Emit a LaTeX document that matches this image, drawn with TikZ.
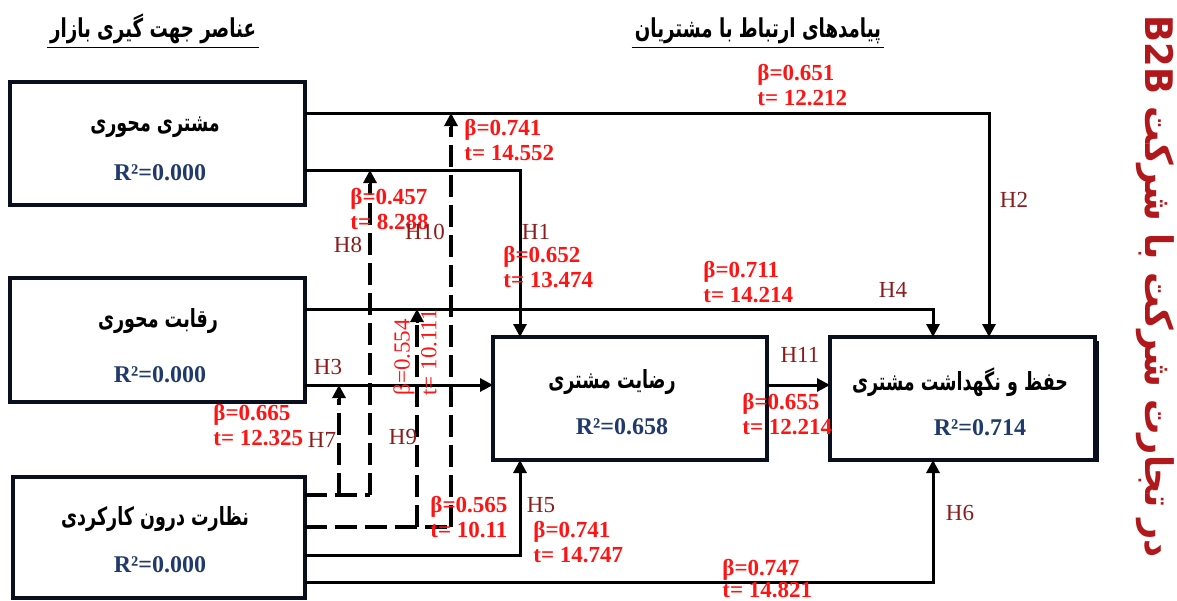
\documentclass[tikz,border=0pt]{standalone}
\usepackage{fontspec}
\setmainfont{Liberation Serif}
\newfontfamily\fa[Script=Arabic,FakeStretch=0.7]{DejaVu Sans}
\newfontfamily\faside[Script=Arabic,FakeStretch=0.93]{DejaVu Sans}
\usetikzlibrary{arrows.meta,calc}
\TeXXeTstate=1
\definecolor{boxline}{HTML}{0A0F1E}
\definecolor{coef}{HTML}{FF1414}
\definecolor{hyp}{HTML}{8B1C1C}
\definecolor{rsq}{HTML}{1F3A6B}
\definecolor{side}{HTML}{B0181C}
\begin{document}
\begin{tikzpicture}[x=0.5pt,y=-0.5pt,
  box/.style={draw=boxline, line width=1.6pt, inner sep=0pt, outer sep=0pt, fill=white},
  ftitle/.style={font=\fa\bfseries\fontsize{12.5}{14}\selectfont, inner sep=0pt},
  rsqtext/.style={font=\bfseries\fontsize{12}{14}\selectfont, text=rsq, inner sep=0pt},
  coeflabel/.style={font=\bfseries\fontsize{11.5}{12.5}\selectfont, text=coef, align=left, anchor=north west, inner sep=0pt},
  hyplabel/.style={font=\fontsize{11.5}{13.5}\selectfont, text=hyp, inner sep=0pt},
  vlabel/.style={font=\fontsize{11.5}{13.5}\selectfont, text=coef, inner sep=0pt, rotate=90, anchor=west},
  conn/.style={line width=1.5pt, draw=black},
  tip/.style={-{Triangle[length=6.5pt,width=6.5pt]}},
  dline/.style={line width=2pt, draw=black, dash pattern=on 11pt off 4pt},
  heading/.style={font=\fa\bfseries\fontsize{13}{15}\selectfont, inner sep=1.5pt}]
\useasboundingbox (0,0) rectangle (1177,600);

% headings
\node[heading] (hl) at (153,29) {\beginR عناصر جهت گیری بازار\endR};
\draw[line width=0.9pt] (hl.south west) -- (hl.south east);
\node[heading] (hr) at (758,31) {\beginR پیامدهای ارتباط با مشتریان\endR};
\draw[line width=0.9pt] (hr.south west) -- (hr.south east);

% side caption
\node[font=\faside\bfseries\fontsize{19}{21}\selectfont, text=side, rotate=-90, inner sep=0pt] (side) at (1155,287)
  {\beginR در تجارت شرکت با شرکت \beginL B2B\endL\endR};

% construct boxes
\node[box, minimum width=147.5pt, minimum height=61.5pt] (A) at (157.5,143.5) {};
\node[box, minimum width=147.5pt, minimum height=62pt] (B) at (157.5,340) {};
\node[box, minimum width=146pt, minimum height=60.5pt] (C) at (159,537.5) {};
\node[box, minimum width=137pt, minimum height=61.5pt] (D) at (630,398.5) {};
\fill[boxline] (1093,341) rectangle (1099,462);
\node[box, minimum width=132.5pt, minimum height=61.5pt] (E) at (962.5,398.5) {};

\node[ftitle] (At) at (155,127) {\beginR مشتری محوری\endR};
\node[rsqtext] (Ar) at (160,173) {R²=0.000};
\node[ftitle] (Bt) at (158,321) {\beginR رقابت محوری\endR};
\node[rsqtext] (Br) at (160,375) {R²=0.000};
\node[ftitle] (Ct) at (155,519) {\beginR نظارت درون کارکردی\endR};
\node[rsqtext] (Cr) at (160,565) {R²=0.000};
\node[ftitle] (Dt) at (612,382) {\beginR رضایت مشتری\endR};
\node[rsqtext] (Dr) at (622,427) {R²=0.658};
\node[ftitle] (Et) at (960,382) {\beginR حفظ و نگهداشت مشتری\endR};
\node[rsqtext] (Er) at (980,428) {R²=0.714};

% junction points on the solid paths
\coordinate (jA1) at (451,113);
\coordinate (jA2) at (370,170);
\coordinate (jB1) at (417,309);
\coordinate (jB2) at (339,385);

% solid paths
\draw[conn,tip] (A.east |- 0,113) -| (989,0 |- E.north);
\draw[conn,tip] (A.east |- 0,170) -| (520,0 |- D.north);
\draw[conn,tip] (B.east |- 0,309) -| (933,0 |- E.north);
\draw[conn,tip] (B.east |- 0,385) -- (D.west |- 0,385);
\draw[conn,tip] (D.east |- 0,385) -- (E.west |- 0,385);
\draw[conn,tip] (C.east |- 0,555) -| (520,0 |- D.south);
\draw[conn,tip] (C.east |- 0,582) -| (933,0 |- E.south);

% dashed paths
\draw[dline] (C.east |- 0,495) -- (370,495);
\draw[dline] (339,495) -- ($(jB2)+(0,14)$);
\draw[conn,tip] ($(jB2)+(0,14)$) -- (jB2);
\draw[dline] (370,495) -- ($(jA2)+(0,14)$);
\draw[conn,tip] ($(jA2)+(0,14)$) -- (jA2);
\draw[dline] (C.east |- 0,527) -- (451,527);
\draw[dline] (417,527) -- ($(jB1)+(0,14)$);
\draw[conn,tip] ($(jB1)+(0,14)$) -- (jB1);
\draw[dline] (451,527) -- ($(jA1)+(0,14)$);
\draw[conn,tip] ($(jA1)+(0,14)$) -- (jA1);

% path coefficients
\node[coeflabel] (c1) at (757,64) {β=0.651\\t= 12.212};
\node[coeflabel] (c2) at (464,119) {β=0.741\\t= 14.552};
\node[coeflabel] (c3) at (350,188) {β=0.457\\t= 8.288};
\node[coeflabel] (c4) at (503,246) {β=0.652\\t= 13.474};
\node[coeflabel] (c5) at (703,261) {β=0.711\\t= 14.214};
\node[coeflabel] (c6) at (213,404) {β=0.665\\t= 12.325};
\node[coeflabel] (c7) at (742,393) {β=0.655\\t= 12.214};
\node[coeflabel] (c8) at (430,496) {β=0.565\\t= 10.11};
\node[coeflabel] (c9) at (533,521) {β=0.741\\t= 14.747};
\node[coeflabel, font=\bfseries\fontsize{11.5}{11}\selectfont] (c10) at (722,559) {β=0.747\\t= 14.821};
\node[vlabel] (c11) at (404,396) {β=0.554};
\node[vlabel] (c12) at (429,396) {t= 10.111};

% hypotheses
\node[hyplabel] (h1) at (536,232) {H1};
\node[hyplabel] (h2) at (1014,200) {H2};
\node[hyplabel] (h3) at (328,367) {H3};
\node[hyplabel] (h4) at (893,290) {H4};
\node[hyplabel] (h5) at (541,505) {H5};
\node[hyplabel] (h6) at (960,513) {H6};
\node[hyplabel] (h7) at (322,440) {H7};
\node[hyplabel] (h8) at (348,245) {H8};
\node[hyplabel] (h9) at (403,437) {H9};
\node[hyplabel] (h10) at (425,232) {H10};
\node[hyplabel] (h11) at (800,355) {H11};
\end{tikzpicture}
\end{document}
